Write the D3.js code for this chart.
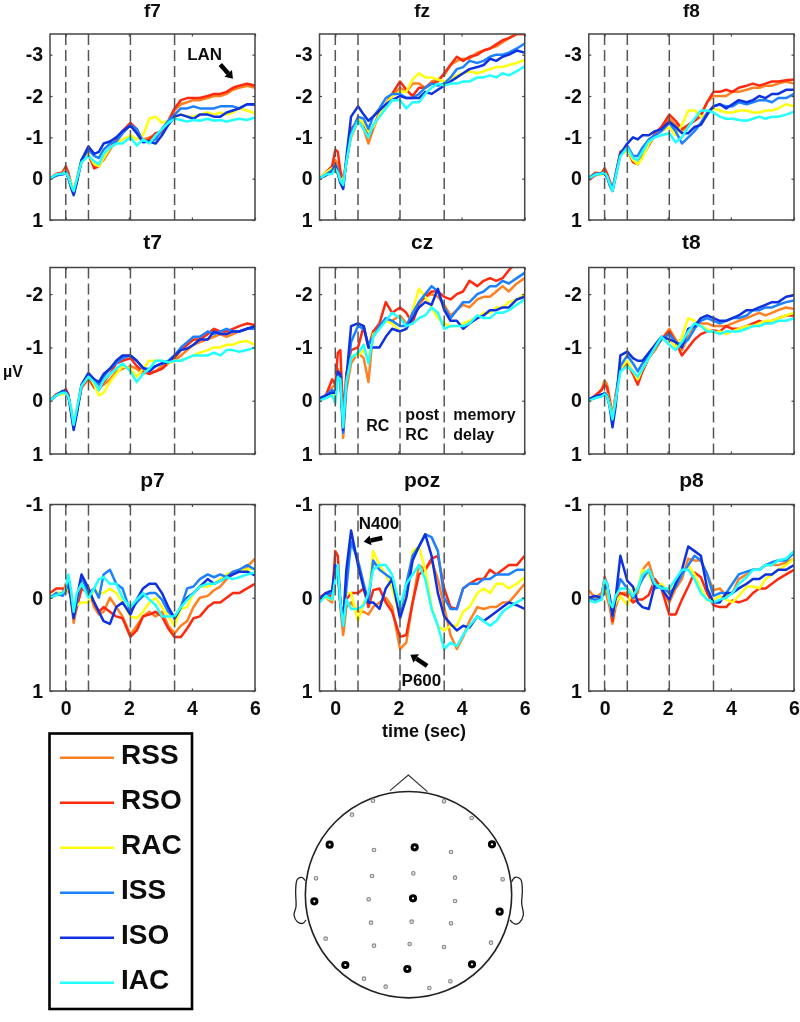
<!DOCTYPE html>
<html><head><meta charset="utf-8">
<script src="https://cdn.jsdelivr.net/npm/d3@7"></script>
<style>html,body{margin:0;padding:0;background:#fff}svg{display:block}text{font-family:"Liberation Sans",Arial,sans-serif;font-weight:bold;fill:#111}</style>
</head><body><svg id="c" width="800" height="1022"></svg>
<script>
const conditions=["RSS","RSO","RAC","ISS","ISO","IAC"];
const colors=["#ff8020","#ff2a10","#ffff10","#1e80ff","#1030e0","#20ffff"];
const timeSec=[-.5,-.3,-.1,0,.08,.16,.25,.35,.5,.72,.9,1.05,1.2,1.4,1.6,1.8,2.05,2.25,2.45,2.65,2.85,3.05,3.25,3.45,3.65,3.85,4.05,4.25,4.5,4.7,4.9,5.1,5.3,5.5,5.75,6];
const eventTimes=[0,.72,2.05,3.45];
const xTicks=[0,2,4,6];

const f7RSS=[0,-.1,-.15,-.25,-.1,.1,.3,0,-.4,-.55,-.3,-.35,-.45,-.7,-.9,-1.1,-1.3,-1.15,-.95,-1.0,-1.05,-1.1,-1.35,-1.65,-1.8,-1.85,-1.9,-1.9,-1.95,-2.0,-2.0,-2.05,-2.15,-2.2,-2.25,-2.2];
const f7RSO=[0,-.12,-.15,-.3,-.15,.1,.3,.05,-.45,-.6,-.25,-.3,-.5,-.75,-.95,-1.15,-1.35,-1.2,-.9,-.95,-1.1,-1.15,-1.4,-1.7,-1.9,-1.95,-1.95,-1.95,-2.0,-2.05,-2.05,-2.1,-2.2,-2.25,-2.3,-2.25];
const f7RAC=[0,-.1,-.12,-.2,-.05,.08,.3,0,-.45,-.6,-.35,-.3,-.5,-.75,-.85,-.95,-1.05,-.95,-1.05,-1.45,-1.5,-1.35,-1.4,-1.5,-1.55,-1.5,-1.5,-1.55,-1.6,-1.55,-1.6,-1.55,-1.6,-1.7,-1.65,-1.58];
const f7ISS=[0,-.08,-.1,-.18,-.05,.15,.35,.05,-.45,-.7,-.55,-.5,-.7,-.85,-.9,-1.1,-1.3,-1.2,-.9,-.9,-.95,-1.2,-1.4,-1.55,-1.7,-1.7,-1.75,-1.7,-1.7,-1.7,-1.75,-1.75,-1.75,-1.7,-1.8,-1.78];
const f7ISO=[0,-.08,-.12,-.15,-.02,.2,.4,.1,-.45,-.78,-.6,-.65,-.85,-.9,-1.0,-1.15,-1.28,-1.1,-.88,-.9,-.85,-1.05,-1.3,-1.5,-1.55,-1.5,-1.45,-1.55,-1.55,-1.5,-1.5,-1.6,-1.65,-1.7,-1.8,-1.8];
const f7IAC=[0,-.1,-.12,-.15,-.05,.15,.3,.02,-.4,-.55,-.42,-.35,-.6,-.75,-.85,-.85,-1.0,-.8,-.95,-.85,-1.05,-1.2,-1.35,-1.45,-1.42,-1.38,-1.42,-1.4,-1.45,-1.4,-1.42,-1.38,-1.42,-1.45,-1.42,-1.48];

const fzRSS=[0,-.15,-.3,-.45,-.35,-.1,.1,-.4,-1.0,-1.4,-1.2,-.85,-1.2,-1.55,-1.75,-2.0,-2.2,-2.1,-2.3,-2.3,-2.2,-2.35,-2.4,-2.5,-2.75,-2.85,-2.9,-2.9,-3.05,-3.1,-3.15,-3.2,-3.3,-3.4,-3.5,-3.5];
const fzRSO=[0,-.15,-.3,-.7,-.65,-.2,.05,-.4,-1.2,-1.4,-1.35,-1.0,-1.25,-1.6,-1.8,-2.05,-2.35,-2.15,-2.0,-2.2,-2.2,-2.3,-2.35,-2.55,-2.75,-2.95,-2.85,-2.95,-3.0,-3.1,-3.15,-3.25,-3.35,-3.4,-3.5,-3.5];
const fzRAC=[0,-.15,-.25,-.2,-.1,0,.05,-.45,-1.05,-1.45,-1.35,-1.15,-1.25,-1.55,-1.8,-2.0,-2.1,-2.1,-2.4,-2.55,-2.45,-2.45,-2.4,-2.35,-2.4,-2.5,-2.55,-2.6,-2.55,-2.6,-2.65,-2.7,-2.7,-2.75,-2.8,-2.87];
const fzISS=[0,-.1,-.2,-.35,-.2,.05,.2,-.4,-1.1,-1.5,-1.45,-1.2,-1.5,-1.7,-1.95,-2.05,-2.05,-1.95,-1.95,-2.05,-2.2,-2.3,-2.25,-2.3,-2.45,-2.65,-2.7,-2.85,-2.8,-2.85,-2.95,-3.0,-3.0,-3.05,-3.15,-3.27];
const fzISO=[0,-.08,-.15,-.3,-.12,.1,.25,-.5,-1.5,-1.75,-1.55,-1.4,-1.5,-1.65,-1.8,-1.9,-2.0,-1.95,-1.95,-1.95,-2.1,-2.05,-2.15,-2.25,-2.35,-2.45,-2.55,-2.65,-2.7,-2.75,-2.9,-2.85,-2.95,-3.0,-3.1,-3.05];
const fzIAC=[0,-.1,-.12,-.25,-.15,.05,.15,-.4,-1.05,-1.4,-1.2,-1.0,-1.3,-1.5,-1.7,-1.9,-1.9,-1.7,-1.85,-1.85,-2.05,-2.2,-2.3,-2.25,-2.3,-2.3,-2.35,-2.35,-2.45,-2.45,-2.5,-2.45,-2.55,-2.5,-2.6,-2.72];

const f8RSS=[-.02,-.15,-.12,-.2,-.1,.08,.25,-.1,-.6,-.7,-.4,-.35,-.55,-.8,-1.05,-1.2,-1.45,-1.3,-1.15,-1.3,-1.4,-1.5,-1.85,-2.0,-2.0,-2.0,-2.1,-2.1,-2.15,-2.2,-2.2,-2.25,-2.25,-2.3,-2.35,-2.3];
const f8RSO=[.03,-.08,-.12,-.25,-.12,.05,.25,-.1,-.65,-.75,-.4,-.35,-.6,-.85,-1.1,-1.25,-1.55,-1.4,-1.2,-1.3,-1.4,-1.55,-1.85,-2.1,-2.1,-2.15,-2.1,-2.2,-2.25,-2.3,-2.25,-2.3,-2.35,-2.35,-2.38,-2.4];
const f8RAC=[-.02,-.1,-.1,-.12,-.05,.1,.25,-.1,-.55,-.7,-.45,-.35,-.5,-.85,-1.05,-1.15,-1.25,-1.05,-1.3,-1.65,-1.65,-1.5,-1.55,-1.7,-1.65,-1.6,-1.6,-1.65,-1.65,-1.6,-1.6,-1.65,-1.65,-1.7,-1.8,-1.75];
const f8ISS=[-.03,-.1,-.12,-.12,-.05,.1,.25,-.1,-.6,-.8,-.55,-.55,-.75,-.95,-1.05,-1.15,-1.35,-1.15,-.85,-1.0,-1.15,-1.35,-1.6,-1.75,-1.8,-1.75,-1.75,-1.85,-1.8,-1.85,-1.9,-1.9,-1.85,-1.95,-1.95,-2.05];
const f8ISO=[0,-.12,-.12,-.12,-.03,.15,.3,-.05,-.6,-.85,-1.0,-.95,-1.05,-1.05,-1.15,-1.2,-1.38,-1.25,-1.1,-1.1,-1.25,-1.3,-1.55,-1.75,-1.8,-1.7,-1.8,-1.9,-1.85,-1.9,-2.0,-1.95,-2.05,-2.05,-2.15,-2.15];
const f8IAC=[0,-.1,-.12,-.15,-.05,.12,.3,-.05,-.55,-.75,-.5,-.45,-.65,-.9,-1.0,-1.05,-1.1,-.88,-1.0,-1.25,-1.45,-1.65,-1.65,-1.6,-1.5,-1.45,-1.45,-1.42,-1.4,-1.45,-1.5,-1.45,-1.5,-1.5,-1.55,-1.62];

const t7RSS=[0,-.12,-.15,-.2,-.1,.15,.45,.2,-.25,-.4,-.25,-.25,-.3,-.4,-.55,-.6,-.65,-.6,-.5,-.55,-.55,-.65,-.7,-.75,-.85,-.95,-1.05,-1.1,-1.15,-1.2,-1.25,-1.2,-1.25,-1.3,-1.35,-1.38];
const t7RSO=[0,-.12,-.15,-.22,-.12,.15,.45,.2,-.25,-.45,-.25,-.2,-.35,-.5,-.7,-.75,-.8,-.65,-.55,-.5,-.55,-.6,-.7,-.8,-.95,-1.05,-1.15,-1.15,-1.25,-1.35,-1.3,-1.3,-1.35,-1.4,-1.45,-1.42];
const t7RAC=[0,-.1,-.12,-.15,-.08,.1,.4,.15,-.3,-.48,-.3,-.1,-.15,-.35,-.5,-.65,-.6,-.45,-.6,-.75,-.75,-.75,-.7,-.75,-.75,-.8,-.85,-.9,-.95,-1.0,-1.0,-1.05,-1.05,-1.1,-1.12,-1.05];
const t7ISS=[0,-.1,-.18,-.15,-.08,.15,.5,.2,-.3,-.5,-.4,-.3,-.45,-.6,-.7,-.8,-.85,-.75,-.6,-.6,-.65,-.7,-.75,-.85,-1.0,-1.1,-1.2,-1.2,-1.3,-1.25,-1.3,-1.35,-1.3,-1.3,-1.35,-1.35];
const t7ISO=[0,-.1,-.18,-.18,-.1,.2,.55,.25,-.3,-.52,-.4,-.35,-.5,-.6,-.75,-.85,-.85,-.75,-.62,-.55,-.65,-.7,-.72,-.85,-.95,-.98,-1.05,-1.15,-1.15,-1.3,-1.25,-1.25,-1.3,-1.3,-1.35,-1.4];
const t7IAC=[0,-.1,-.15,-.15,-.08,.12,.45,.15,-.28,-.45,-.35,-.2,-.38,-.5,-.6,-.7,-.55,-.35,-.5,-.6,-.75,-.75,-.72,-.75,-.75,-.8,-.85,-.85,-.85,-.9,-.85,-.95,-.95,-.92,-.95,-1.0];

const czRSS=[0,-.1,-.25,-.3,-.6,-.5,.7,-.2,-.7,-.9,-.8,-.35,-1.3,-1.4,-1.5,-1.5,-1.6,-1.45,-1.5,-1.8,-1.95,-2.0,-1.95,-1.8,-1.6,-1.7,-1.8,-1.75,-1.9,-1.95,-1.95,-2.05,-2.15,-2.05,-2.2,-2.3];
const czRSO=[0,-.1,-.4,-.3,-.9,-.95,.3,-.5,-.95,-1.0,-1.4,-1.0,-1.3,-1.45,-1.85,-1.65,-1.75,-1.65,-1.45,-1.85,-1.95,-2.05,-2.05,-1.95,-1.9,-2.0,-2.05,-2.25,-2.15,-2.25,-2.3,-2.25,-2.3,-2.45,-2.6,-2.8];
const czRAC=[0,-.05,-.15,-.05,-.5,-.4,.45,-.4,-.85,-.85,-.95,-.75,-1.25,-1.35,-1.5,-1.45,-1.3,-1.35,-1.7,-2.1,-1.95,-1.75,-1.55,-1.45,-1.4,-1.4,-1.45,-1.5,-1.55,-1.65,-1.65,-1.75,-1.75,-1.85,-1.9,-2.0];
const czISS=[0,-.1,-.2,-.15,-.5,-.35,.6,-.3,-1.1,-1.4,-1.35,-1.05,-1.2,-1.4,-1.55,-1.5,-1.4,-1.4,-1.65,-1.85,-2.0,-2.15,-2.05,-1.75,-1.55,-1.7,-1.85,-1.85,-2.0,-2.05,-2.15,-2.15,-2.25,-2.2,-2.3,-2.4];
const czISO=[-.05,-.1,-.15,-.15,-.55,-.5,.55,-.4,-1.4,-1.45,-1.4,-1.0,-1.0,-1.0,-1.2,-1.35,-1.3,-1.35,-1.55,-1.75,-1.85,-1.8,-2.1,-1.7,-1.5,-1.5,-1.35,-1.45,-1.55,-1.6,-1.7,-1.7,-1.75,-1.75,-1.9,-1.95];
const czIAC=[0,-.05,-.1,.05,-.45,-.4,.5,-.35,-.8,-.9,-1.05,-.7,-1.2,-1.35,-1.5,-1.65,-1.55,-1.4,-1.45,-1.55,-1.6,-1.75,-1.65,-1.35,-1.4,-1.4,-1.4,-1.45,-1.6,-1.55,-1.55,-1.65,-1.65,-1.7,-1.8,-1.9];

const t8RSS=[0,-.08,-.2,-.38,-.3,-.05,.3,-.1,-.6,-.7,-.55,-.4,-.55,-.8,-.95,-1.15,-1.35,-1.15,-.95,-1.2,-1.4,-1.45,-1.45,-1.4,-1.4,-1.4,-1.45,-1.5,-1.55,-1.6,-1.65,-1.6,-1.65,-1.7,-1.75,-1.72];
const t8RSO=[0,-.1,-.2,-.3,-.25,0,.3,-.1,-.6,-.7,-.5,-.3,-.55,-.8,-1.0,-1.15,-1.3,-1.1,-.85,-1.0,-1.15,-1.25,-1.3,-1.32,-1.3,-1.4,-1.35,-1.35,-1.4,-1.45,-1.5,-1.45,-1.5,-1.55,-1.6,-1.6];
const t8RAC=[0,-.05,-.1,-.15,-.12,.05,.3,-.05,-.6,-.75,-.55,-.4,-.6,-.8,-1.05,-1.15,-1.15,-1.0,-1.2,-1.55,-1.5,-1.4,-1.35,-1.28,-1.3,-1.25,-1.3,-1.35,-1.4,-1.4,-1.45,-1.5,-1.5,-1.55,-1.6,-1.65];
const t8ISS=[-.03,-.05,-.1,-.15,-.1,.1,.35,0,-.65,-.85,-.7,-.55,-.7,-.85,-1.0,-1.15,-1.25,-1.1,-1.05,-1.15,-1.35,-1.5,-1.55,-1.5,-1.45,-1.5,-1.55,-1.55,-1.6,-1.7,-1.7,-1.75,-1.75,-1.8,-1.85,-1.88];
const t8ISO=[-.03,-.08,-.12,-.12,-.08,.1,.5,.1,-.85,-.92,-.8,-.75,-.75,-.9,-1.05,-1.2,-1.15,-1.1,-1.0,-1.35,-1.4,-1.55,-1.6,-1.55,-1.5,-1.5,-1.55,-1.6,-1.7,-1.7,-1.75,-1.8,-1.85,-1.85,-1.95,-1.98];
const t8IAC=[0,-.05,-.08,-.12,-.08,.1,.35,0,-.55,-.65,-.55,-.45,-.6,-.8,-1.0,-1.2,-1.05,-.95,-1.1,-1.3,-1.45,-1.4,-1.3,-1.3,-1.25,-1.3,-1.3,-1.3,-1.35,-1.4,-1.4,-1.45,-1.45,-1.5,-1.5,-1.55];

const p7RSS=[0,-.05,-.05,-.15,-.1,0,.27,.1,-.1,-.1,.1,.18,.15,0,.1,.2,.4,.3,.2,.15,.2,.15,.3,.38,.3,.25,.1,0,-.02,-.08,-.12,-.2,-.25,-.28,-.33,-.42];
const p7RSO=[-.05,-.1,-.1,-.05,-.1,-.02,.2,.1,-.1,-.05,.05,.15,.1,.15,.2,.22,.42,.35,.2,.18,.15,.2,.33,.42,.42,.33,.22,.2,.1,.05,.05,0,-.05,-.05,-.1,-.15];
const p7RAC=[-.02,-.05,-.05,-.05,-.12,-.1,.1,.08,.05,.05,-.1,-.05,-.05,-.1,-.05,.05,.2,.22,.15,.05,0,.1,.2,.3,.12,.1,-.05,-.12,-.12,-.15,-.2,-.25,-.28,-.3,-.3,-.32];
const p7ISS=[0,-.05,-.02,-.08,-.22,-.05,.2,.05,-.22,-.05,-.1,0,-.25,-.3,-.15,-.1,.15,.05,-.02,-.05,-.05,.02,.15,.22,.1,-.1,-.12,-.2,-.25,-.22,-.25,-.22,-.28,-.3,-.35,-.3];
const p7ISO=[0,-.03,-.05,-.08,-.18,0,.22,0,-.25,-.1,.05,.15,.25,.28,.1,.05,.18,.02,-.1,-.15,-.15,-.05,.1,.22,.1,0,-.05,-.12,-.2,-.15,-.18,-.22,-.25,-.28,-.28,-.24];
const p7IAC=[0,-.03,-.05,-.1,-.25,-.1,.15,-.05,-.15,0,-.1,-.2,-.22,-.15,-.15,0,.1,.02,-.05,.02,.08,.2,.2,.2,.1,.02,-.05,-.12,-.15,-.15,-.18,-.22,-.2,-.22,-.25,-.27];

const pozRSS=[0,0,.05,-.3,-.3,.1,.4,.1,.05,.15,.15,.18,.1,.05,0,.1,.55,.48,.05,-.35,-.3,-.4,-.2,.1,.4,.55,.42,.25,.1,.12,.1,.1,.05,.05,-.05,-.15];
const pozRSO=[0,-.05,0,-.5,-.45,.05,.3,.02,-.05,-.05,-.1,.1,-.08,-.1,.05,.15,.42,.4,.05,-.25,-.3,-.42,-.45,-.1,.1,.12,-.1,-.15,-.2,-.2,-.3,-.25,-.3,-.35,-.35,-.45];
const pozRAC=[0,0,.02,-.25,-.25,.05,.25,-.05,-.05,.25,.05,0,-.5,-.35,-.25,-.1,.2,-.1,-.5,-.55,-.3,.1,.3,.35,.3,.3,.15,.1,-.05,-.1,-.05,-.15,-.15,-.1,-.15,-.22];
const pozISS=[0,-.03,-.05,-.3,-.3,.05,.3,-.1,-.6,-.4,-.15,.05,-.4,-.3,-.25,-.2,.15,-.15,-.45,-.55,-.68,-.65,-.5,0,.12,.12,-.1,-.15,-.15,-.2,-.2,-.25,-.25,-.25,-.3,-.3];
const pozISO=[.02,-.05,-.08,-.35,-.3,.05,.25,-.3,-.72,-.35,-.1,.05,.05,.12,-.1,-.2,.22,0,-.4,-.55,-.68,-.45,-.05,.2,.28,.35,.3,.32,.2,.25,.2,.15,.1,.05,.08,.12];
const pozIAC=[.05,-.02,.02,-.2,-.35,.05,.3,.02,.12,.12,.08,-.05,-.3,-.35,-.35,-.25,.1,-.15,-.25,-.35,-.2,.12,.3,.55,.48,.52,.4,.3,.2,.25,.3,.25,.15,.1,.05,0];

const p8RSS=[-.08,0,-.05,-.15,0,.1,.28,.1,-.05,-.05,.02,-.05,-.3,-.38,-.15,-.1,.05,-.1,-.2,-.42,-.4,-.4,-.25,-.08,-.1,-.02,-.05,-.2,-.25,-.3,-.3,-.35,-.35,-.35,-.38,-.42];
const p8RSO=[0,.02,0,-.22,-.15,.05,.25,.05,-.05,-.02,.05,.02,.02,-.03,-.2,-.1,.18,.18,.02,-.12,-.27,-.22,-.05,.08,.1,.1,.03,.05,.02,-.05,-.1,-.1,-.15,-.2,-.25,-.3];
const p8RAC=[0,.02,.02,-.1,-.1,.05,.2,.05,-.02,.08,-.1,-.1,-.3,-.25,-.1,-.15,-.05,-.15,-.25,-.35,-.25,-.1,.03,.02,-.02,.02,.05,-.02,-.12,-.12,-.1,-.2,-.25,-.3,-.35,-.42];
const p8ISS=[0,.02,.02,-.15,-.15,.02,.18,0,-.2,-.1,0,-.1,-.2,-.3,-.1,-.12,-.05,-.12,-.25,-.35,-.45,-.4,-.25,-.02,-.05,-.05,-.15,-.25,-.28,-.3,-.3,-.35,-.38,-.4,-.4,-.48];
const p8ISO=[0,-.02,0,-.1,-.12,-.02,.2,0,-.45,-.18,-.12,.05,.1,.12,-.15,-.1,.02,-.15,-.3,-.55,-.5,-.45,-.1,.05,.05,-.05,-.05,-.1,-.15,-.2,-.2,-.25,-.25,-.3,-.3,-.35];
const p8IAC=[.03,.05,.02,-.2,-.15,.05,.1,-.02,-.1,-.1,-.02,-.1,-.25,-.3,-.15,-.1,-.1,-.2,-.3,-.3,-.2,-.05,.02,.05,.02,0,-.05,-.15,-.22,-.3,-.3,-.35,-.35,-.4,-.42,-.5];

const electrodesMain=[[149,254],[404,262],[636,253],[103,424],[399,415],[659,455],[196,615],[382,627],[576,613]];
const electrodesOther=[[279,122],[492,124],[216,164],[575,174],[282,270],[513,276],[276,348],[400,340],[525,353],[108,355],[668,358],[266,418],[525,423],[273,488],[395,485],[513,490],[137,536],[282,557],[389,552],[492,561],[633,548],[252,656],[511,664],[317,680],[448,684]];
const headOutline=[[330,92],[385,45],[442,95]];
const earLeft=[[76,362],[65,352],[52,358],[47,390],[48,440],[42,465],[52,485],[68,490],[78,480]];
const earRight=[[695,365],[705,352],[722,358],[727,390],[725,430],[730,465],[718,488],[705,492],[690,480]];

const colX=[[50,255],[319.5,524.7],[588.8,794]];
const rowY=[[34,220],[267.5,454],[504.5,691]];
const rowDom=[[-3.5,1],[-2.5,1],[-1,1]];
const rowTicks=[[-3,-2,-1,0,1],[-2,-1,0,1],[-1,0,1]];
const titleBase=[17.3,249,487];
const panels=[
 {name:"f7",r:0,c:0,s:[f7RSS,f7RSO,f7RAC,f7ISS,f7ISO,f7IAC]},
 {name:"fz",r:0,c:1,s:[fzRSS,fzRSO,fzRAC,fzISS,fzISO,fzIAC]},
 {name:"f8",r:0,c:2,s:[f8RSS,f8RSO,f8RAC,f8ISS,f8ISO,f8IAC]},
 {name:"t7",r:1,c:0,s:[t7RSS,t7RSO,t7RAC,t7ISS,t7ISO,t7IAC]},
 {name:"cz",r:1,c:1,s:[czRSS,czRSO,czRAC,czISS,czISO,czIAC]},
 {name:"t8",r:1,c:2,s:[t8RSS,t8RSO,t8RAC,t8ISS,t8ISO,t8IAC]},
 {name:"p7",r:2,c:0,s:[p7RSS,p7RSO,p7RAC,p7ISS,p7ISO,p7IAC]},
 {name:"poz",r:2,c:1,s:[pozRSS,pozRSO,pozRAC,pozISS,pozISO,pozIAC]},
 {name:"p8",r:2,c:2,s:[p8RSS,p8RSO,p8RAC,p8ISS,p8ISO,p8IAC]}
];
const notes={
 f7:{labels:[["LAN",3.85,-2.88]],arrows:[[4.9,-2.76,5.3,-2.42]]},
 cz:{labels:[["RC",.98,.57],["post",2.22,.36],["RC",2.22,.74],["memory",3.74,.36],["delay",3.74,.74]],arrows:[]},
 poz:{labels:[["N400",.74,-.74],["P600",2.1,.95]],arrows:[[1.49,-.64,.9,-.6],[2.91,.73,2.38,.61]]}
};

const svg=d3.select("#c");
const defs=svg.append("defs");
defs.append("filter").attr("id","soft").attr("filterUnits","userSpaceOnUse").attr("x",0).attr("y",0).attr("width",800).attr("height",1022)
  .append("feGaussianBlur").attr("stdDeviation",0.45);
const root=svg.append("g").attr("filter","url(#soft)");
const axisColor="#444";

panels.forEach((p,i)=>{
  const x=d3.scaleLinear().domain([-.5,6]).range(colX[p.c]);
  const y=d3.scaleLinear().domain(rowDom[p.r]).range(rowY[p.r]);
  const g=root.append("g");
  const clip="clip"+i;
  defs.append("clipPath").attr("id",clip).append("rect")
    .attr("x",x.range()[0]).attr("y",y.range()[0]).attr("width",x.range()[1]-x.range()[0]).attr("height",y.range()[1]-y.range()[0]);
  const plot=g.append("g").attr("clip-path",`url(#${clip})`);
  const line=d3.line().x((d,j)=>x(timeSec[j])).y(d=>y(d));
  p.s.forEach((vals,k)=>plot.append("path").attr("d",line(vals)).attr("fill","none")
     .attr("stroke",colors[k]).attr("stroke-width",2.5).attr("stroke-linejoin","round"));
  g.selectAll(".ev").data(eventTimes).join("line").attr("x1",d=>x(d)).attr("x2",d=>x(d))
    .attr("y1",y.range()[0]).attr("y2",y.range()[1]).attr("stroke","#555").attr("stroke-width",1.5).attr("stroke-dasharray","11 5");
  g.append("rect").attr("x",x.range()[0]).attr("y",y.range()[0]).attr("width",x.range()[1]-x.range()[0]).attr("height",y.range()[1]-y.range()[0])
    .attr("fill","none").attr("stroke",axisColor).attr("stroke-width",1.5);
  const axes=[
   [d3.axisLeft(y).tickValues(rowTicks[p.r]).tickSize(-2.5).tickPadding(7).tickFormat(d3.format("d")),`translate(${x.range()[0]},0)`],
   [d3.axisRight(y).tickValues(rowTicks[p.r]).tickSize(-2.5).tickFormat(""),`translate(${x.range()[1]},0)`],
   [d3.axisTop(x).tickValues(xTicks).tickSize(-2.5).tickFormat(""),`translate(0,${y.range()[0]})`],
   [d3.axisBottom(x).tickValues(xTicks).tickSize(-2.5).tickPadding(10).tickFormat(p.r===2?d3.format("d"):""),`translate(0,${y.range()[1]})`]
  ];
  axes.forEach(([a,tr])=>{
    const ag=g.append("g").attr("transform",tr).call(a);
    ag.select(".domain").remove();
    ag.selectAll(".tick line").attr("stroke",axisColor).attr("stroke-width",1.2);
    ag.selectAll("text").attr("font-size",19.5).attr("fill","#111").attr("font-family",'"Liberation Sans"').attr("font-weight","bold")
      .text(function(){return d3.select(this).text().replace("\u2212","-")});
  });
  g.append("text").attr("x",(x.range()[0]+x.range()[1])/2).attr("y",titleBase[p.r]).attr("text-anchor","middle").attr("font-size",p.r===0?19:21).text(p.name);
  const n=notes[p.name];
  if(n){
    n.labels.forEach(l=>g.append("text").attr("x",x(l[1])).attr("y",y(l[2])).attr("font-size",p.name==="cz"?16:17).text(l[0]));
    n.arrows.forEach(a=>{
      const x1=x(a[0]),y1=y(a[1]),x2=x(a[2]),y2=y(a[3]);
      const ang=Math.atan2(y2-y1,x2-x1),c=Math.cos(ang),s=Math.sin(ang);
      const bx=x2-7*c,by=y2-7*s;
      g.append("line").attr("x1",x1).attr("y1",y1).attr("x2",bx).attr("y2",by).attr("stroke","#000").attr("stroke-width",4.5);
      g.append("path").attr("fill","#000").attr("d",d3.line()([[x2,y2],[bx-5*s,by+5*c],[bx+5*s,by-5*c]])+"Z");
    });
  }
});

root.append("text").attr("x",3).attr("y",377).attr("font-size",16).text("µV");
root.append("text").attr("x",424).attr("y",737).attr("text-anchor","middle").attr("font-size",18).text("time (sec)");

// legend
const legY=d3.scalePoint().domain(conditions).range([757.7,982.7]);
root.append("rect").attr("x",49.5).attr("y",733.5).attr("width",142.5).attr("height",275.5).attr("fill","none").attr("stroke","#000").attr("stroke-width",2.6);
conditions.forEach((c,i)=>{
  root.append("line").attr("x1",60).attr("x2",114).attr("y1",legY(c)).attr("y2",legY(c)).attr("stroke",colors[i]).attr("stroke-width",2.6);
  root.append("text").attr("x",121).attr("y",legY(c)+6.5).attr("font-size",28).attr("fill","#111").text(c);
});

// head map
const hx=d3.scaleLinear().domain([0,260*3]).range([280,540]);
const hy=d3.scaleLinear().domain([0,262*3]).range([760,1022]);
const hc=d3.line().x(d=>hx(d[0])).y(d=>hy(d[1])).curve(d3.curveCatmullRom);
root.append("circle").attr("cx",hx(385.5)).attr("cy",hy(404)).attr("r",hx(309.5)-hx(0)).attr("fill","none").attr("stroke","#222").attr("stroke-width",1.6);
root.append("path").attr("d",d3.line().x(d=>hx(d[0])).y(d=>hy(d[1]))(headOutline)).attr("fill","none").attr("stroke","#333").attr("stroke-width",1.2);
[earLeft,earRight].forEach(e=>root.append("path").attr("d",hc(e)).attr("fill","none").attr("stroke","#222").attr("stroke-width",1.3));
root.selectAll(".eo").data(electrodesOther).join("circle").attr("cx",d=>hx(d[0])).attr("cy",d=>hy(d[1])).attr("r",1.8).attr("fill","#ddd").attr("stroke","#888").attr("stroke-width",1.1);
root.selectAll(".em").data(electrodesMain).join("circle").attr("cx",d=>hx(d[0])).attr("cy",d=>hy(d[1])).attr("r",2.6).attr("fill","#fff").attr("stroke","#000").attr("stroke-width",3);
</script></body></html>
